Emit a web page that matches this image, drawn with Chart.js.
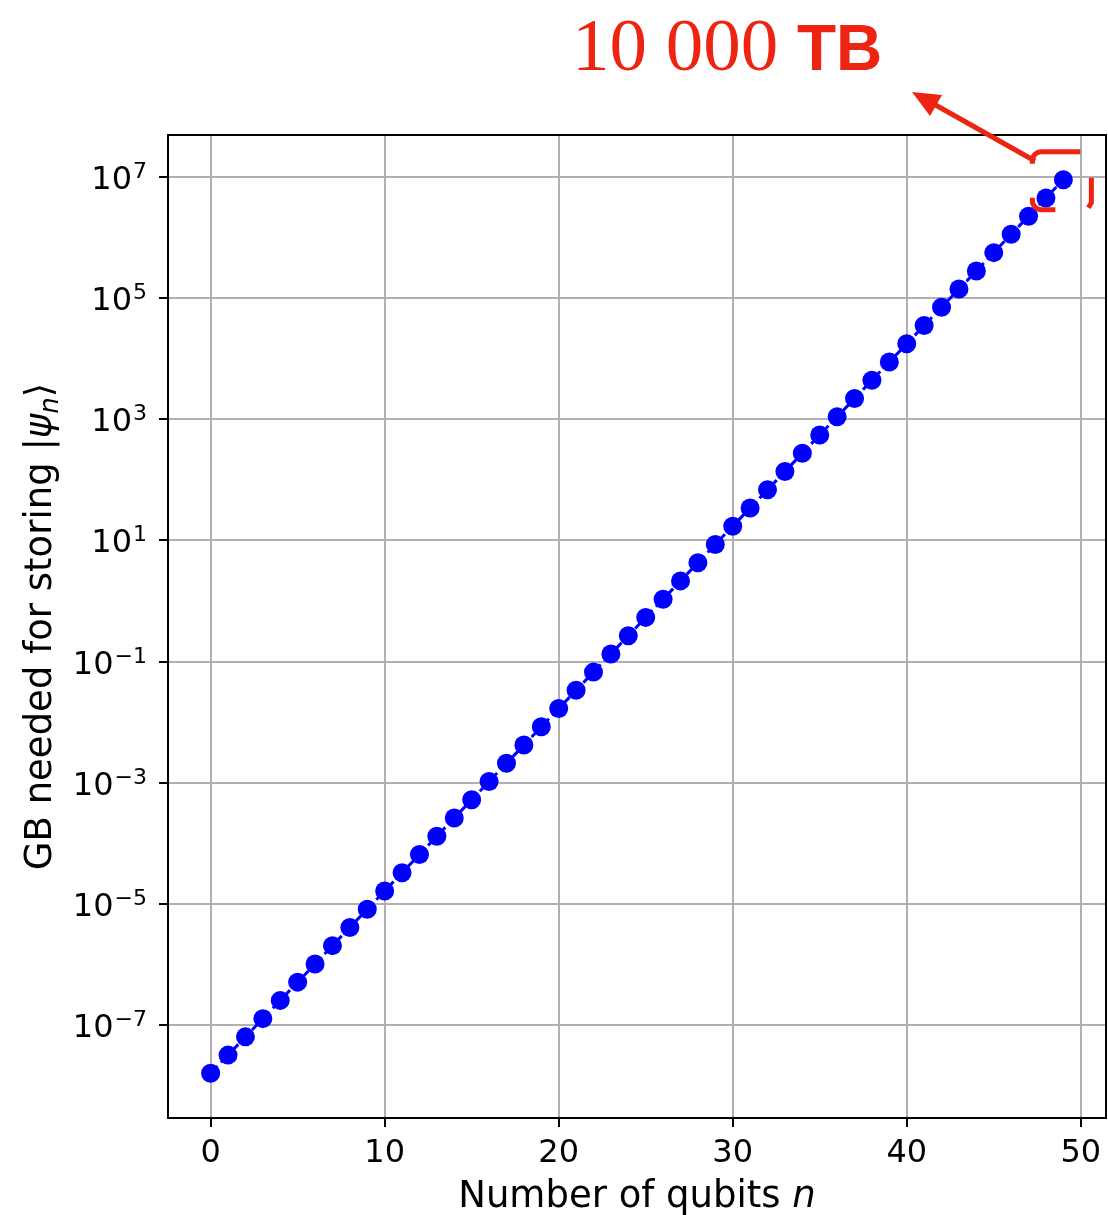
<!DOCTYPE html>
<html>
<head>
<meta charset="utf-8">
<title>GB needed for storing a quantum state</title>
<script src="https://cdn.jsdelivr.net/npm/chart.js@4.4.0/dist/chart.umd.min.js"></script>
<style>
  html, body { margin: 0; padding: 0; background: #fff; overflow: hidden; }
  #wrap { width: 1108px; height: 1215px; }
  canvas { display: block; }
</style>
</head>
<body>
<div id="wrap"><canvas id="myChart" width="1108" height="1215"></canvas></div>
<script>
// number of qubits n
const qubits = [0, 1, 2, 3, 4, 5, 6, 7, 8, 9,
    10, 11, 12, 13, 14, 15, 16, 17, 18, 19,
    20, 21, 22, 23, 24, 25, 26, 27, 28, 29,
    30, 31, 32, 33, 34, 35, 36, 37, 38, 39,
    40, 41, 42, 43, 44, 45, 46, 47, 48, 49];

// GB (log axis)
const gigabytes = [1.6e-8, 3.2e-8, 6.4e-8, 1.28e-7, 2.56e-7, 5.12e-7, 1.02e-6, 2.05e-6, 4.1e-6, 8.19e-6,
    1.64e-5, 3.28e-5, 6.55e-5, 1.31e-4, 2.62e-4, 5.24e-4, 1.05e-3, 2.1e-3, 4.19e-3, 8.39e-3,
    0.0168, 0.0336, 0.0671, 0.134, 0.268, 0.537, 1.07, 2.15, 4.29, 8.59,
    17.2, 34.4, 68.7, 137, 275, 550, 1100, 2200, 4400, 8800,
    17600, 35200, 70400, 141000, 281000, 563000, 1130000, 2250000, 4500000, 9010000];

const xTicks = [0, 10, 20, 30, 40, 50];
const yExponents = [-7, -5, -3, -1, 1, 3, 5, 7];

const annotationNumber = '10 000';
const annotationUnit = 'TB';

const RED = 'rgb(238, 36, 18)';
const FONT = '"DejaVu Sans", sans-serif';

const extras = {
    id: 'extras',
    afterDraw(chart) {
        const ctx = chart.ctx;
        const area = chart.chartArea;
        const xs = chart.scales.x;
        const ys = chart.scales.y;
        ctx.save();

        // frame top + right
        ctx.strokeStyle = '#000';
        ctx.lineWidth = 2;
        ctx.beginPath();
        ctx.moveTo(area.left, area.top);
        ctx.lineTo(area.right, area.top);
        ctx.lineTo(area.right, area.bottom);
        ctx.stroke();

        ctx.fillStyle = '#000';

        // x tick labels
        ctx.font = '32px ' + FONT;
        ctx.textAlign = 'center';
        ctx.textBaseline = 'alphabetic';
        xTicks.forEach(v => {
            ctx.fillText(String(v), xs.getPixelForValue(v), 1162);
        });

        // y tick labels: 10^e
        ctx.textAlign = 'left';
        yExponents.forEach(e => {
            const y = ys.getPixelForValue(Math.pow(10, e));
            const exp = (e < 0 ? '\u2212' : '') + Math.abs(e);
            ctx.font = '22px ' + FONT;
            const we = ctx.measureText(exp).width;
            ctx.font = '32px ' + FONT;
            const wb = ctx.measureText('10').width;
            const right = 146;
            const x0 = right - we - wb;
            ctx.fillText('10', x0, y + 12);
            ctx.font = '22px ' + FONT;
            ctx.fillText(exp, x0 + wb + 1, y + 1);
        });

        // x title
        ctx.font = '37px ' + FONT;
        const p1 = 'Number of qubits ';
        const w1 = ctx.measureText(p1).width;
        ctx.font = 'italic 37px ' + FONT;
        const w2 = ctx.measureText('n').width;
        let tx = (area.left + area.right) / 2 - (w1 + w2) / 2;
        ctx.font = '37px ' + FONT;
        ctx.fillText(p1, tx, 1207);
        ctx.font = 'italic 37px ' + FONT;
        ctx.fillText('n', tx + w1, 1207);

        // y title (rotated)
        const parts = [
            { t: 'GB needed for storing |', f: '37px ' + FONT, dy: 0 },
            { t: '\u03c8', f: 'italic 37px ' + FONT, dy: 0 },
            { t: 'n', f: 'italic 26px ' + FONT, dy: 7 },
            { t: '\u27e9', f: '37px ' + FONT, dy: 0 }
        ];
        let total = 0;
        parts.forEach(p => { ctx.font = p.f; p.w = ctx.measureText(p.t).width; total += p.w; });
        ctx.save();
        ctx.translate(51, (area.top + area.bottom) / 2);
        ctx.rotate(-Math.PI / 2);
        let px = -total / 2;
        parts.forEach(p => {
            ctx.font = p.f;
            ctx.fillText(p.t, px, p.dy);
            px += p.w;
        });
        ctx.restore();

        // annotation text
        ctx.fillStyle = RED;
        ctx.font = '75px "Liberation Serif", serif';
        ctx.fillText(annotationNumber, 572, 70);
        ctx.font = 'bold 64px "Liberation Sans", sans-serif';
        ctx.fillText(annotationUnit, 797, 70);

        // arrow to the text
        ctx.strokeStyle = RED;
        ctx.lineWidth = 5;
        ctx.lineCap = 'butt';
        ctx.beginPath();
        ctx.moveTo(1035, 161);
        ctx.lineTo(932, 103);
        ctx.stroke();
        ctx.beginPath();
        ctx.moveTo(912, 92);
        ctx.lineTo(942, 95);
        ctx.lineTo(930, 116);
        ctx.closePath();
        ctx.fill();

        // bracket round the last point
        const meta = chart.getDatasetMeta(0);
        const last = meta.data[meta.data.length - 1];
        const P = { x: last.x, y: last.y };
        ctx.lineWidth = 5;
        ctx.beginPath();
        ctx.moveTo(P.x - 31, P.y - 16);
        ctx.arcTo(P.x - 31, P.y - 28, P.x - 20, P.y - 28, 9);
        ctx.lineTo(P.x + 17, P.y - 28);
        ctx.stroke();
        ctx.beginPath();
        ctx.moveTo(P.x + 28, P.y - 2);
        ctx.lineTo(P.x + 28, P.y + 23);
        ctx.lineTo(P.x + 25, P.y + 28);
        ctx.stroke();
        ctx.beginPath();
        ctx.moveTo(P.x - 31, P.y + 18);
        ctx.arcTo(P.x - 31, P.y + 30, P.x - 20, P.y + 30, 9);
        ctx.lineTo(P.x - 8, P.y + 30);
        ctx.stroke();

        ctx.restore();
    }
};

const ctx = document.getElementById('myChart').getContext('2d');
window.myLine = new Chart(ctx, {
    type: 'line',
    data: {
        datasets: [{
            data: qubits.map((n, i) => ({ x: n, y: gigabytes[i] })),
            borderColor: '#0000ff',
            backgroundColor: '#0000ff',
            borderWidth: 3,
            borderDash: [10, 5],
            pointRadius: 9.5,
            pointBorderWidth: 0,
            pointBackgroundColor: '#0000ff',
            fill: false,
            tension: 0
        }]
    },
    options: {
        responsive: false,
        animation: false,
        devicePixelRatio: 1,
        layout: { autoPadding: false, padding: { top: 135, right: 2, left: 0, bottom: 0 } },
        plugins: {
            legend: { display: false },
            tooltip: { enabled: false }
        },
        scales: {
            x: {
                type: 'linear',
                min: -2.45,
                max: 51.45,
                afterBuildTicks: s => { s.ticks = xTicks.map(v => ({ value: v })); },
                afterFit: s => { s.height = 97; },
                ticks: { display: false },
                grid: { color: '#b0b0b0', lineWidth: 2, tickColor: '#000', tickLength: 9, tickWidth: 2 },
                border: { display: true, color: '#000', width: 2 }
            },
            y: {
                type: 'logarithmic',
                min: Math.pow(10, -8.533),
                max: Math.pow(10, 7.692),
                afterBuildTicks: s => { s.ticks = yExponents.map(e => ({ value: Math.pow(10, e) })); },
                afterFit: s => { s.width = 168; },
                ticks: { display: false },
                grid: { color: '#b0b0b0', lineWidth: 2, tickColor: '#000', tickLength: 9, tickWidth: 2 },
                border: { display: true, color: '#000', width: 2 }
            }
        }
    },
    plugins: [extras]
});
</script>
</body>
</html>
